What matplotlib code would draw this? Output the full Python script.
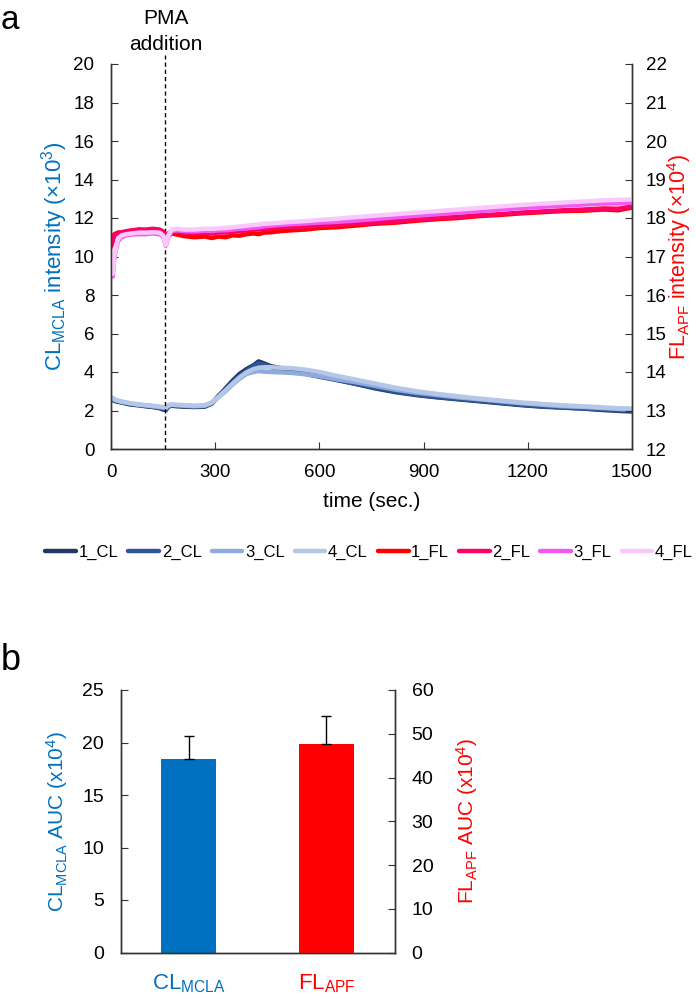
import matplotlib
matplotlib.use("Agg")
import matplotlib.pyplot as plt

BASE = 'Liberation Sans'
plt.rcParams['font.family'] = [BASE, 'DejaVu Sans']
plt.rcParams['mathtext.fontset'] = 'custom'
plt.rcParams['mathtext.rm'] = BASE
plt.rcParams['mathtext.it'] = BASE + ':italic'
plt.rcParams['mathtext.bf'] = BASE + ':bold'

# ---------------- data ----------------
times = [0, 5, 10, 20, 30, 45, 60, 80, 100, 120, 140, 150, 158, 165, 175, 190, 210, 240,
         270, 290, 310, 330, 350, 370, 390, 410, 425, 440, 460, 490, 520, 560, 600, 650,
         700, 760, 820, 880, 940, 1000, 1060, 1120, 1180, 1240, 1300, 1360, 1420, 1460, 1500]

cl_1 = [2.55, 2.55, 2.50, 2.45, 2.42, 2.35, 2.30, 2.27, 2.22, 2.18, 2.12, 2.05, 2.02, 2.20, 2.25,
        2.22, 2.20, 2.18, 2.20, 2.35, 2.75, 3.15, 3.55, 3.90, 4.15, 4.35, 4.55, 4.45, 4.30, 4.20,
        4.05, 3.95, 3.80, 3.60, 3.40, 3.15, 2.95, 2.80, 2.68, 2.58, 2.48, 2.38, 2.28, 2.20, 2.15,
        2.10, 2.02, 1.98, 1.95]
cl_2 = [2.60, 2.58, 2.52, 2.47, 2.43, 2.38, 2.33, 2.28, 2.24, 2.20, 2.15, 2.10, 2.08, 2.22, 2.27,
        2.25, 2.22, 2.20, 2.22, 2.38, 2.78, 3.10, 3.45, 3.80, 4.05, 4.30, 4.45, 4.38, 4.25, 4.15,
        4.05, 3.90, 3.75, 3.58, 3.40, 3.18, 2.98, 2.82, 2.70, 2.60, 2.50, 2.40, 2.30, 2.22, 2.16,
        2.10, 2.05, 2.02, 2.00]
cl_3 = [2.65, 2.62, 2.55, 2.50, 2.45, 2.40, 2.35, 2.30, 2.27, 2.22, 2.18, 2.15, 2.12, 2.25, 2.30,
        2.27, 2.25, 2.22, 2.25, 2.38, 2.70, 3.00, 3.35, 3.65, 3.90, 4.00, 4.05, 4.02, 4.00, 3.98,
        3.95, 3.88, 3.78, 3.62, 3.48, 3.28, 3.08, 2.92, 2.80, 2.68, 2.58, 2.48, 2.38, 2.30, 2.22,
        2.18, 2.12, 2.08, 2.05]
cl_4 = [2.68, 2.65, 2.58, 2.52, 2.47, 2.42, 2.37, 2.32, 2.28, 2.25, 2.20, 2.18, 2.15, 2.28, 2.32,
        2.30, 2.28, 2.25, 2.28, 2.42, 2.72, 3.05, 3.40, 3.72, 3.98, 4.15, 4.22, 4.25, 4.25, 4.22,
        4.20, 4.12, 4.00, 3.80, 3.62, 3.40, 3.18, 3.00, 2.86, 2.74, 2.62, 2.52, 2.42, 2.34, 2.27,
        2.22, 2.16, 2.12, 2.10]

fl_1 = [17.30, 17.45, 17.58, 17.62, 17.60, 17.64, 17.66, 17.70, 17.68, 17.70, 17.68, 17.62, 17.45,
        17.55, 17.60, 17.57, 17.53, 17.50, 17.52, 17.48, 17.52, 17.50, 17.55, 17.54, 17.58, 17.60,
        17.58, 17.62, 17.63, 17.66, 17.68, 17.70, 17.74, 17.76, 17.80, 17.85, 17.88, 17.93, 17.97,
        18.00, 18.05, 18.08, 18.12, 18.15, 18.18, 18.19, 18.22, 18.20, 18.27]
fl_2 = [17.25, 17.40, 17.55, 17.62, 17.63, 17.66, 17.68, 17.70, 17.70, 17.72, 17.70, 17.65, 17.48,
        17.60, 17.66, 17.65, 17.62, 17.60, 17.62, 17.60, 17.63, 17.62, 17.65, 17.66, 17.68, 17.70,
        17.70, 17.72, 17.73, 17.75, 17.77, 17.78, 17.80, 17.82, 17.85, 17.88, 17.92, 17.96, 18.00,
        18.03, 18.07, 18.10, 18.14, 18.17, 18.20, 18.22, 18.25, 18.24, 18.30]
fl_3 = [16.60, 16.48, 17.00, 17.40, 17.50, 17.55, 17.57, 17.58, 17.58, 17.60, 17.58, 17.52, 17.28,
        17.50, 17.66, 17.68, 17.66, 17.65, 17.67, 17.66, 17.68, 17.68, 17.70, 17.72, 17.73, 17.75,
        17.76, 17.78, 17.80, 17.82, 17.84, 17.86, 17.88, 17.90, 17.93, 17.97, 18.02, 18.06, 18.10,
        18.14, 18.18, 18.22, 18.26, 18.29, 18.32, 18.35, 18.38, 18.38, 18.40]
fl_4 = [16.70, 16.55, 17.05, 17.45, 17.55, 17.58, 17.60, 17.62, 17.62, 17.63, 17.62, 17.55, 17.30,
        17.55, 17.70, 17.72, 17.70, 17.70, 17.72, 17.72, 17.73, 17.74, 17.76, 17.78, 17.80, 17.82,
        17.83, 17.85, 17.86, 17.88, 17.90, 17.92, 17.95, 17.98, 18.02, 18.06, 18.10, 18.14, 18.18,
        18.22, 18.26, 18.30, 18.34, 18.37, 18.40, 18.43, 18.46, 18.47, 18.48]

cl_names = ['1_CL', '2_CL', '3_CL', '4_CL']
fl_names = ['1_FL', '2_FL', '3_FL', '4_FL']
cl_series = [cl_1, cl_2, cl_3, cl_4]
fl_series = [fl_1, fl_2, fl_3, fl_4]
cl_colors = ['#1F3864', '#2F5597', '#8FAADC', '#B4C7E7']
fl_colors = ['#FF0000', '#FF0066', '#F05AF0', '#FAC8FA']

pma_time = 155

bar_categories = ['CL$_{\\mathrm{MCLA}}$', 'FL$_{\\mathrm{APF}}$']
cl_auc_mean = 18.4
cl_auc_err = 2.2
fl_auc_mean = 47.7
fl_auc_err = 6.4

BLUE = '#0070C0'
RED = '#FF0000'
SPINE = '#333333'

# ---------------- figure ----------------
fig = plt.figure(figsize=(6.96, 9.99), dpi=100)

W, H = 696.0, 999.0
def rect(l, t, r, b):
    return [l / W, 1 - b / H, (r - l) / W, (b - t) / H]

ax1 = fig.add_axes(rect(111, 64, 632, 449))
ax2 = ax1.twinx()

handles = []
for name, ys, c in zip(cl_names, cl_series, cl_colors):
    ln, = ax1.plot(times, ys, color=c, lw=3.2, label=name, solid_capstyle='round')
    handles.append(ln)
for name, ys, c in zip(fl_names, fl_series, fl_colors):
    ln, = ax2.plot(times, ys, color=c, lw=3.2, label=name, solid_capstyle='round')
    handles.append(ln)

ax1.set_xlim(0, 1500)
ax1.set_ylim(0, 20)
ax2.set_ylim(12, 22)
ax1.set_xticks(range(0, 1501, 300))
ax1.set_yticks(range(0, 21, 2))
ax2.set_yticks(range(12, 23, 1))

for ax in (ax1, ax2):
    ax.spines['top'].set_visible(False)
    for s in ax.spines.values():
        s.set_linewidth(1.0)
        s.set_color(SPINE)
ax1.tick_params(axis='y', direction='in', length=5, labelsize=13.5, pad=12, color=SPINE)
ax1.tick_params(axis='x', direction='in', length=5, labelsize=13.5, pad=11, color=SPINE)
ax2.tick_params(axis='y', direction='in', length=5, labelsize=13.5, pad=10, color=SPINE)

ax1.plot([pma_time, pma_time], [0, 20.47], color='black', lw=1.0, ls=(0, (3, 2.2)),
         clip_on=False, zorder=5)
ax1.text(pma_time + 3, 1.085, 'PMA\naddition', transform=ax1.get_xaxis_transform(),
         ha='center', va='center', fontsize=15, linespacing=1.45)

ax1.set_xlabel('time (sec.)', fontsize=15, labelpad=8)
ax1.set_ylabel('CL$_{\\mathrm{MCLA}}$ intensity (×10$^{3}$)', color=BLUE, fontsize=16)
ax2.set_ylabel('FL$_{\\mathrm{APF}}$ intensity (×10$^{4}$)', color=RED, fontsize=15.5)
ax1.yaxis.label.set_verticalalignment('center')
ax2.yaxis.label.set_verticalalignment('center')
ax1.yaxis.set_label_coords((55 - 111) / 521.0, 0.5)
ax2.yaxis.set_label_coords((679 - 111) / 521.0, 0.5)

fig.legend(handles=handles, loc='center', bbox_to_anchor=(369 / W, 1 - 552 / H), ncol=8,
           frameon=False, handlelength=1.85, handletextpad=0.15,
           columnspacing=0.6, borderaxespad=0, borderpad=0, prop={'size': 12})

fig.text(1 / W, 1 - 29 / H, 'a', fontsize=24, ha='left', va='baseline')
fig.text(1 / W, 1 - 670 / H, 'b', fontsize=26, ha='left', va='baseline')

# ---------------- panel b ----------------
ax3 = fig.add_axes(rect(120.7, 690, 395, 952.5))
ax4 = ax3.twinx()
bw = 0.40
ax3.bar([0], [cl_auc_mean], width=bw, color=BLUE, zorder=2)
ax3.errorbar([0], [cl_auc_mean], yerr=[[0], [cl_auc_err]], fmt='none', ecolor='black',
             elinewidth=1.0, capsize=3.5, capthick=1.0, zorder=3)
ax4.bar([1], [fl_auc_mean], width=bw, color=RED, zorder=2)
ax4.errorbar([1], [fl_auc_mean], yerr=[[0], [fl_auc_err]], fmt='none', ecolor='black',
             elinewidth=1.0, capsize=3.5, capthick=1.0, zorder=3)

ax3.set_xlim(-0.493, 1.497)
ax3.set_ylim(0, 25)
ax4.set_ylim(0, 60)
ax3.set_yticks(range(0, 26, 5))
ax4.set_yticks(range(0, 61, 10))
ax3.set_xticks([0, 1])
ax3.set_xticklabels(bar_categories)
for lbl, c in zip(ax3.get_xticklabels(), [BLUE, RED]):
    lbl.set_color(c)
for ax in (ax3, ax4):
    ax.spines['top'].set_visible(False)
    for s in ax.spines.values():
        s.set_linewidth(1.0)
        s.set_color(SPINE)
ax3.tick_params(axis='y', direction='in', length=5, labelsize=14, pad=12, color=SPINE)
ax4.tick_params(axis='y', direction='in', length=5, labelsize=14, pad=12, color=SPINE)
ax3.tick_params(axis='x', length=0, labelsize=16, pad=14)

ax3.set_ylabel('CL$_{\\mathrm{MCLA}}$ AUC (x10$^{4}$)', color=BLUE, fontsize=15)
ax4.set_ylabel('FL$_{\\mathrm{APF}}$ AUC (x10$^{4}$)', color=RED, fontsize=15)
ax3.yaxis.label.set_verticalalignment('center')
ax4.yaxis.label.set_verticalalignment('center')
ax3.yaxis.set_label_coords((57 - 120.7) / 274.3, 0.5)
ax4.yaxis.set_label_coords((467 - 120.7) / 274.3, 0.5)

fig.savefig('out.png', dpi=100)
